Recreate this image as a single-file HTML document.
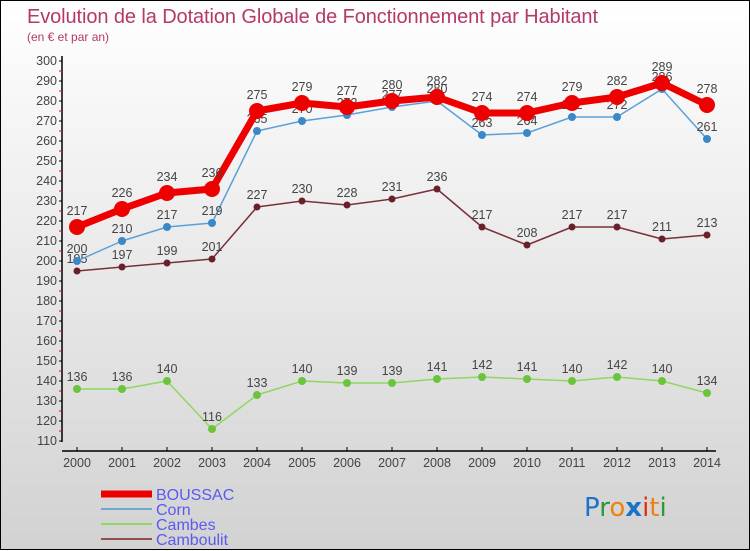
<!DOCTYPE html>
<html><head><meta charset="utf-8">
<style>
html,body{margin:0;padding:0}
body{width:750px;height:550px;overflow:hidden;font-family:"Liberation Sans","DejaVu Sans",sans-serif}
#wrap{position:relative;width:748px;height:548px;border:1px solid #000;background:linear-gradient(#ffffff,#d2d2d2)}
svg{position:absolute;left:0;top:0}
</style></head><body>
<div id="wrap">
<svg id="chart" width="750" height="550">
<text x="26" y="22" font-size="20" fill="#b5386a" textLength="571">Evolution de la Dotation Globale de Fonctionnement par Habitant</text>
<text x="26" y="40" font-size="12" fill="#b5386a">(en € et par an)</text>
<g id="axes"></g><g id="series"></g><g id="legend"></g>
<text x="583" y="515" font-size="26" font-family="DejaVu Sans, sans-serif"><tspan fill="#1a73c8">P</tspan><tspan fill="#2a9a3a">r</tspan><tspan fill="#f08010">o</tspan><tspan fill="#1a73c8" font-weight="bold">x</tspan><tspan fill="#e03010">i</tspan><tspan fill="#f08010">t</tspan><tspan fill="#2a9a3a">i</tspan></text>
</svg>
</div>
<script>
const years=[2000,2001,2002,2003,2004,2005,2006,2007,2008,2009,2010,2011,2012,2013,2014];
const boussac=[217,226,234,236,275,279,277,280,282,274,274,279,282,289,278];
const corn=[200,210,217,219,265,270,273,277,280,263,264,272,272,286,261];
const cambes=[136,136,140,116,133,140,139,139,141,142,141,140,142,140,134];
const camboulit=[195,197,199,201,227,230,228,231,236,217,208,217,217,211,213];
const yTicks=[110,120,130,140,150,160,170,180,190,200,210,220,230,240,250,260,270,280,290,300];
const NS="http://www.w3.org/2000/svg";
const X=i=>76+i*45, Y=v=>60+(300-v)*2;
function mk(t,a,p){const e=document.createElementNS(NS,t);for(const k in a)e.setAttribute(k,a[k]);p.appendChild(e);return e;}
const ax=document.getElementById('axes');
let l=mk('line',{x1:61,y1:55,x2:61,y2:441,stroke:'#000','stroke-width':1.5},ax);


yTicks.forEach(v=>{
 mk('line',{x1:58,y1:Y(v),x2:61,y2:Y(v),stroke:'#000'},ax);
 if(v<300) mk('line',{x1:58,y1:Y(v+5),x2:61,y2:Y(v+5),stroke:'#e00'},ax);
 const t=mk('text',{x:56,y:Y(v)+4,'font-size':12.5,fill:'#444','text-anchor':'end'},ax);t.textContent=v;
 
 
});
l=mk('line',{x1:61,y1:450,x2:715,y2:450,stroke:'#000','stroke-width':1.5},ax);


years.forEach((y,i)=>{
 mk('line',{x1:X(i),y1:446,x2:X(i),y2:450,stroke:'#000'},ax);
 const t=mk('text',{x:X(i),y:466,'font-size':12.5,fill:'#444','text-anchor':'middle'},ax);t.textContent=y;
 
 
});
const sg=document.getElementById('series');
const defs=[
 {name:'cambes',data:cambes,line:'#8ed860',pt:'#6cc43c',w:1.5,r:4},
 {name:'camboulit',data:camboulit,line:'#7a3038',pt:'#6a2028',w:1.5,r:3.5},
 {name:'corn',data:corn,line:'#5aa0d8',pt:'#3a88c8',w:1.5,r:4},
 {name:'boussac',data:boussac,line:'#ee0000',pt:'#ee0000',w:7,r:8}
];
defs.forEach(s=>{
 const g=mk('g',{},sg);
 
 
 const pts=s.data.map((v,i)=>X(i)+','+Y(v)).join(' ');
 mk('polyline',{points:pts,fill:'none',stroke:s.line,'stroke-width':s.w,'stroke-linejoin':'round'},g);
 s.data.forEach((v,i)=>{
  const c=mk('circle',{cx:X(i),cy:Y(v),r:s.r,fill:s.pt},g);
  
  
  const t=mk('text',{x:X(i),y:Y(v)-(s.name==='boussac'?12:8),'font-size':12.5,fill:'#444','text-anchor':'middle'},g);t.textContent=v;
  
  
 });
});
const lg=document.getElementById('legend');
const leg=[['BOUSSAC','#ee0000',7],['Corn','#6fa8d0',2],['Cambes','#8ed860',2],['Camboulit','#905050',2]];
leg.forEach((e,i)=>{
 const y=493+i*15;
 const g=mk('g',{},lg);
 
 
 mk('line',{x1:100,y1:y,x2:151,y2:y,stroke:e[1],'stroke-width':e[2]},g);
 const t=mk('text',{x:155,y:y+6,'font-size':16,fill:'#5a5af0'},g);t.textContent=e[0];
});
</script>
</body></html>
